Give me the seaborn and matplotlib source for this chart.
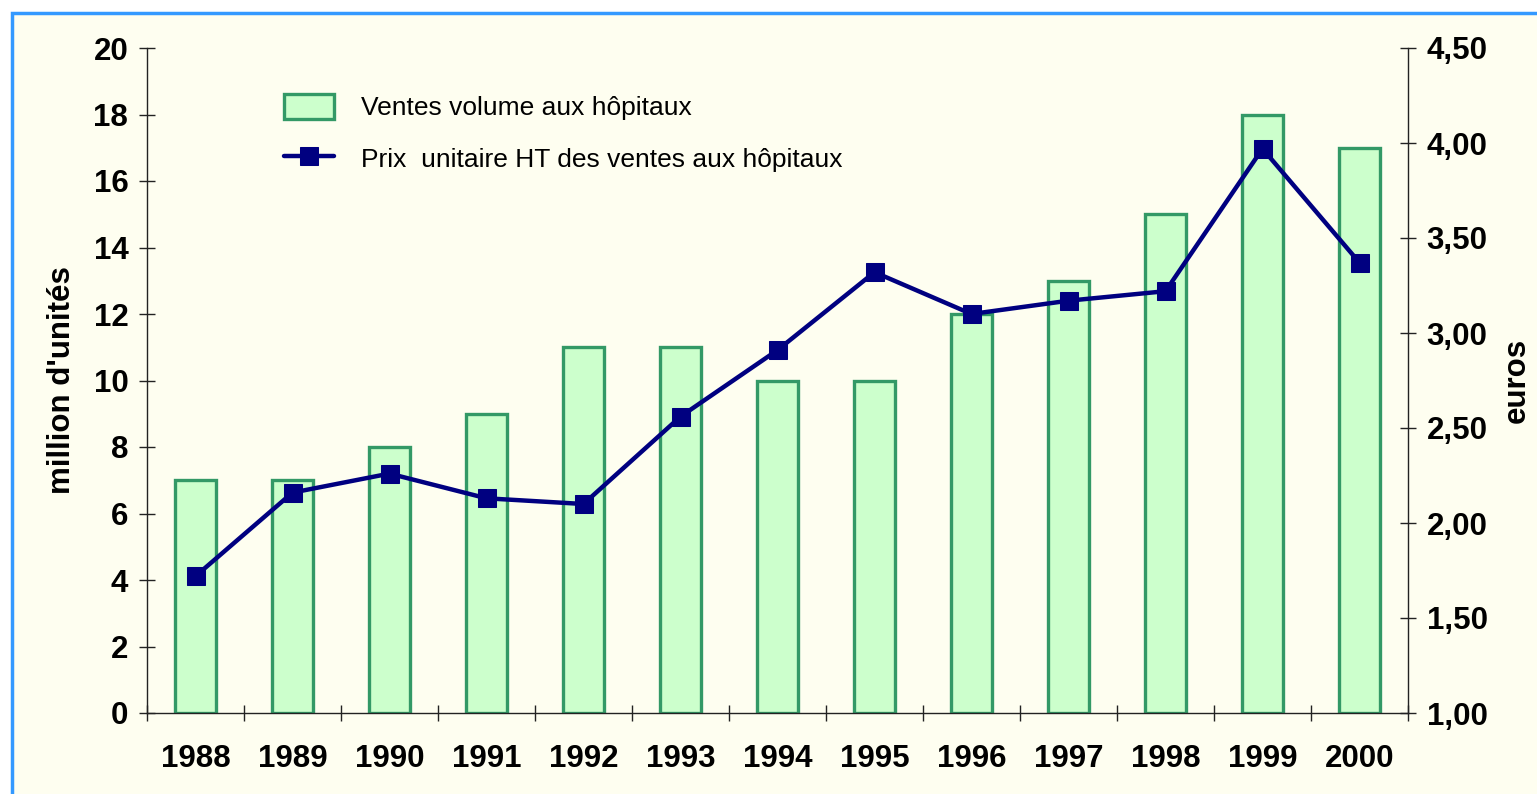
import numpy as np
import matplotlib
matplotlib.use("Agg")
import matplotlib.pyplot as plt
import seaborn as sns
from matplotlib.patches import Rectangle
from matplotlib.ticker import FuncFormatter

years = ["1988", "1989", "1990", "1991", "1992", "1993", "1994",
         "1995", "1996", "1997", "1998", "1999", "2000"]
volume = [7, 7, 8, 9, 11, 11, 10, 10, 12, 13, 15, 18, 17]
prix = [1.72, 2.16, 2.26, 2.13, 2.10, 2.56, 2.91, 3.32, 3.10, 3.17, 3.22, 3.97, 3.37]

vol_label = "Ventes volume aux hôpitaux"
prix_label = "Prix  unitaire HT des ventes aux hôpitaux"

sns.set_style("white")
plt.rcParams['font.family'] = ['Liberation Sans', 'DejaVu Sans']
plt.rcParams['text.color'] = 'black'
plt.rcParams['xtick.color'] = 'black'
plt.rcParams['ytick.color'] = 'black'
plt.rcParams['axes.labelcolor'] = 'black'

cream = "#FEFEF0"
fig = plt.figure(figsize=(15.37, 7.94), dpi=100)
fig.patch.set_facecolor("white")
# blue frame (only top/left visible in the original crop)
fig.patches.append(Rectangle((12.5 / 1537, -0.2), 1.3, 1.2 - 12.5 / 794,
                             transform=fig.transFigure, facecolor=cream,
                             edgecolor="#3399FF", linewidth=2.5, zorder=0))

ax = fig.add_axes([147 / 1537, 1 - 713 / 794, (1408 - 147) / 1537, (713 - 48) / 794])
ax.set_facecolor("none")

sns.barplot(x=years, y=volume, ax=ax, color="#CCFFCC", edgecolor="#339966",
            linewidth=2.4, width=0.42, saturation=1, label=vol_label)
ax.set_ylim(0, 20)
ax.set_xlim(-0.5, len(years) - 0.5)
ax.set_yticks(np.arange(0, 21, 2))

ax2 = ax.twinx()
sns.lineplot(x=np.arange(len(years)), y=prix, ax=ax2, color="#000080",
             linewidth=3.2, marker="s", markersize=13, markeredgecolor="#000080",
             label=prix_label, legend=False)
ax2.set_ylim(1.0, 4.5)
ax2.set_yticks(np.arange(1.0, 4.51, 0.5))
ax2.yaxis.set_major_formatter(FuncFormatter(lambda v, p: f"{v:.2f}".replace(".", ",")))

for a in (ax, ax2):
    for s in a.spines.values():
        s.set_visible(False)
ax.spines["left"].set_visible(True)
ax.spines["bottom"].set_visible(True)
ax2.spines["right"].set_visible(True)
for s in (ax.spines["left"], ax.spines["bottom"], ax2.spines["right"]):
    s.set_color("#222222")
    s.set_linewidth(1)

fs = 22.5
ax.tick_params(axis="y", direction="inout", length=11, width=1, color="#222222",
               labelsize=fs, pad=8, left=True)
ax2.tick_params(axis="y", direction="inout", length=11, width=1, color="#222222",
                labelsize=fs, pad=8, right=True)
ax.set_xticks(np.arange(-0.5, len(years), 1), minor=True)
ax.tick_params(axis="x", which="minor", direction="inout", length=11, width=1,
               color="#222222", bottom=True)
ax.tick_params(axis="x", which="major", length=0, labelsize=fs, pad=22)
for lab in ax.get_xticklabels() + ax.get_yticklabels() + ax2.get_yticklabels():
    lab.set_fontweight("bold")

ax.set_xlabel("")
ax.set_ylabel("million d'unités", fontsize=fs, fontweight="bold", labelpad=12)
ax2.set_ylabel("euros", fontsize=fs, fontweight="bold", labelpad=10)
ax.grid(False)
ax2.grid(False)

h1, l1 = ax.get_legend_handles_labels()
h2, l2 = ax2.get_legend_handles_labels()
leg = ax.legend(h1 + h2, l1 + l2, loc="upper left", bbox_to_anchor=(0.090, 0.967),
                frameon=False, fontsize=19, handlelength=1.9, handleheight=1.1,
                labelspacing=0.95, handletextpad=1.0)
ax.set_zorder(1)
ax2.set_zorder(2)
ax2.patch.set_visible(False)
leg.remove()
ax2.add_artist(leg)

fig.savefig("out.png", dpi=100, facecolor=fig.get_facecolor())
